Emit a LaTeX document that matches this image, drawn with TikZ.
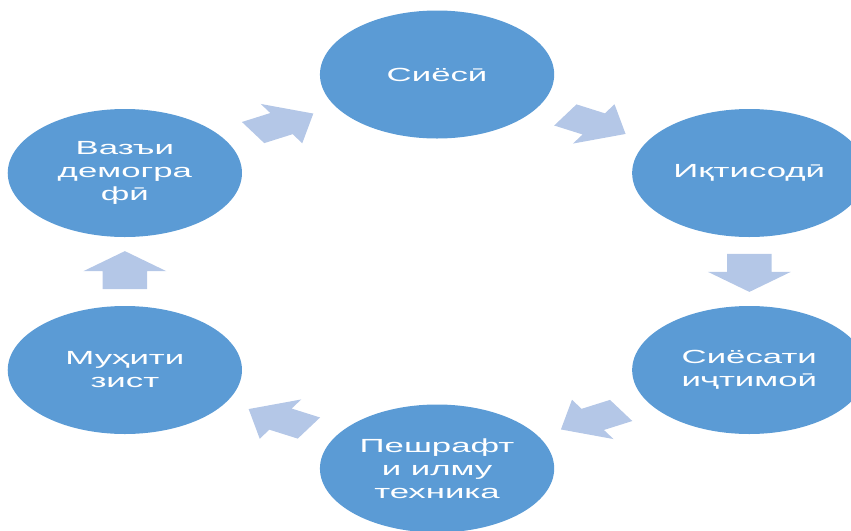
\documentclass[tikz,border=0pt]{standalone}
\usepackage{fontspec}
\setmainfont{Liberation Sans}
\usetikzlibrary{shapes.arrows,calc}

\definecolor{stagefill}{HTML}{5B9BD5}
\definecolor{linkfill}{HTML}{B4C7E7}

\tikzset{
	every stage/.style={circle, fill=stagefill, minimum size=128pt, inner sep=0pt,
		text=white, align=center, font=\fontsize{19}{23}\selectfont},
	every link/.style={single arrow, fill=linkfill, minimum height=38pt,
		text height=24pt, text depth=0pt, text width=0pt,
		single arrow head extend=10.5pt, single arrow tip angle=97,
		single arrow head indent=0pt, inner sep=0pt}
}

\begin{document}
\begin{tikzpicture}[x=1pt, y=1pt, xscale=1.83, transform shape]
	\useasboundingbox (0,0) rectangle (465.03,-531);
	\coordinate (hub) at (238.8,-271.5);
	
	\foreach \l [count=\i] in {Сиёсӣ, Иқтисодӣ, Сиёсати\\иҷтимоӣ, Пешрафт\\и илму\\техника, Муҳити\\зист, Вазъи\\демогра\\фӣ}
	\node [every stage/.try] (stage-\i) at ($(hub)+({150-60*\i}:197)$) {\l};
	
	\foreach \a/\b [count=\i] in {1/2,2/3,3/4,4/5,5/6,6/1}
	\node [every link/.try, rotate={30-60*\i}, xshift=-4pt] (link-\i) at ($(stage-\a)!0.5!(stage-\b)$) {};
\end{tikzpicture}
\end{document}
